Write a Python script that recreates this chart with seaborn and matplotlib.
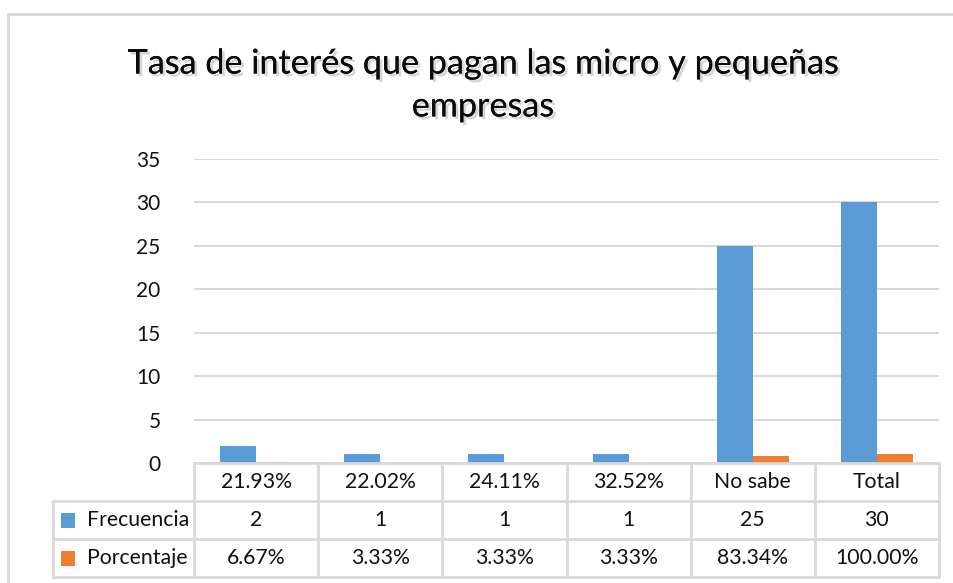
import matplotlib
matplotlib.use("Agg")
import matplotlib.pyplot as plt
import matplotlib.patheffects as pe
from matplotlib.lines import Line2D
from matplotlib.patches import Rectangle
import seaborn as sns
import pandas as pd

categorias = ["21.93%", "22.02%", "24.11%", "32.52%", "No sabe", "Total"]
frecuencia = [2, 1, 1, 1, 25, 30]
porcentaje = [0.0667, 0.0333, 0.0333, 0.0333, 0.8334, 1.0]
series = ["Frecuencia", "Porcentaje"]
colores = ["#5B9BD5", "#ED7D31"]
yticks = [0, 5, 10, 15, 20, 25, 30, 35]
titulo = "Tasa de interés que pagan las micro y pequeñas\nempresas"

df = pd.DataFrame({
    "categoria": categorias * 2,
    "serie": [series[0]] * len(categorias) + [series[1]] * len(categorias),
    "valor": frecuencia + porcentaje,
})

sns.set_theme(style="white")
plt.rcParams["font.family"] = ["Lato", "DejaVu Sans"]

W, H = 954, 583
fig = plt.figure(figsize=(W / 100, H / 100), dpi=100)
L, R, T, B = 194, 939, 159, 463
ax = fig.add_axes([L / W, 1 - B / H, (R - L) / W, (B - T) / H])

sns.barplot(data=df, x="categoria", y="valor", hue="serie", order=categorias,
            hue_order=series, palette=colores, width=0.58, ax=ax,
            saturation=1, legend=False, linewidth=0)

txt = "#111111"
ax.set_xlim(-0.5, len(categorias) - 0.5)
ax.set_ylim(0, 35)
ax.set_yticks(yticks)
ax.set_yticklabels([str(t) for t in yticks], fontsize=15, color=txt)
ax.tick_params(axis="y", length=0, pad=24)
ax.set_xticks([])
ax.set_xlabel("")
ax.set_ylabel("")
for s in ax.spines.values():
    s.set_visible(False)
ax.yaxis.grid(True, color="#d9d9d9", linewidth=1.5)
ax.set_axisbelow(True)

gc = "#d9d9d9"
glw = 2.0
# table
row_h = 38 / (B - T)  # axes fraction
xt = ax.get_xaxis_transform()
n = len(categorias)
ax.add_line(Line2D([-0.5, n - 0.5], [0, 0], transform=xt, color=gc, lw=glw, clip_on=False))
left_frac = (53 - L) / (R - L)
for k in range(1, 4):
    ax.add_line(Line2D([left_frac, 1], [-k * row_h, -k * row_h], transform=ax.transAxes,
                       color=gc, lw=glw, clip_on=False))
for i in range(n + 1):
    ax.add_line(Line2D([i - 0.5, i - 0.5], [0, -3 * row_h], transform=xt,
                       color=gc, lw=glw, clip_on=False))
ax.add_line(Line2D([left_frac, left_frac], [-row_h, -3 * row_h], transform=ax.transAxes,
                   color=gc, lw=glw, clip_on=False))

filas = [[str(v) for v in frecuencia], [f"{v * 100:.2f}%" for v in porcentaje]]
for i, c in enumerate(categorias):
    ax.text(i, -0.5 * row_h, c, transform=xt, ha="center", va="center",
            fontsize=15.3, color=txt)
    for r in range(2):
        ax.text(i, -(r + 1.5) * row_h, filas[r][i], transform=xt, ha="center",
                va="center", fontsize=15.3, color=txt)
px = 1 / (R - L)
for r in range(2):
    yc = -(r + 1.5) * row_h
    ax.add_patch(Rectangle(((61 - L) * px, yc - 7.5 / (B - T)), 14 * px, 15 / (B - T),
                           transform=ax.transAxes, color=colores[r], clip_on=False,
                           linewidth=0))
    ax.text((87 - L) * px, yc, series[r], transform=ax.transAxes, ha="left",
            va="center", fontsize=15.3, color=txt)

fig.add_artist(Line2D([8 / W, 8 / W], [0, 1 - 14 / H], transform=fig.transFigure,
                      color=gc, lw=2))
fig.add_artist(Line2D([8 / W, 1], [1 - 14 / H, 1 - 14 / H], transform=fig.transFigure,
                      color=gc, lw=2))

fig.text(483 / W, 1 - 85 / H, titulo, ha="center", va="center", fontsize=24.6,
         color="#0a0a0a", linespacing=1.42,
         path_effects=[pe.withSimplePatchShadow(offset=(2, -2), shadow_rgbFace="#888888",
                                                alpha=0.35), pe.Normal()])

fig.savefig("out.png", dpi=100)
